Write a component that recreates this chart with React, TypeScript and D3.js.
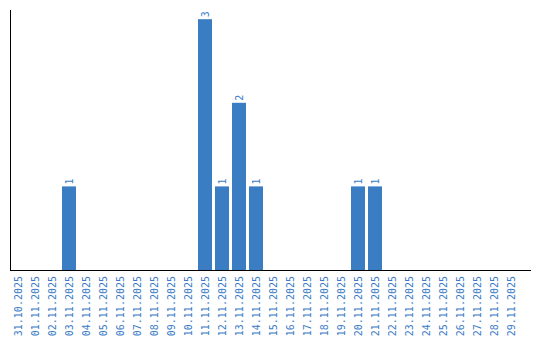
import React from "react";
import * as d3 from "d3";

const categories: string[] = [
  "31.10.2025", "01.11.2025", "02.11.2025", "03.11.2025", "04.11.2025", "05.11.2025",
  "06.11.2025", "07.11.2025", "08.11.2025", "09.11.2025", "10.11.2025", "11.11.2025",
  "12.11.2025", "13.11.2025", "14.11.2025", "15.11.2025", "16.11.2025", "17.11.2025",
  "18.11.2025", "19.11.2025", "20.11.2025", "21.11.2025", "22.11.2025", "23.11.2025",
  "24.11.2025", "25.11.2025", "26.11.2025", "27.11.2025", "28.11.2025", "29.11.2025",
];
const values: number[] = [
  0, 0, 0, 1, 0, 0, 0, 0, 0, 0, 0, 3, 1, 2, 1, 0, 0, 0, 0, 0, 1, 1, 0, 0, 0, 0, 0, 0, 0, 0,
];

const W = 540;
const H = 340;
const BAR = "#3b7dc2";
const TXT = "#3a7bc6";

export default function App() {
  const x = d3
    .scaleBand<string>()
    .domain(categories)
    .range([9.5, 519.5])
    .paddingInner(3 / 17)
    .paddingOuter(1.5 / 17);
  const y = d3.scaleLinear().domain([0, 3.11]).range([270, 10]);
  const font = "'DejaVu Sans Mono', monospace";

  return (
    <svg
      width={W}
      height={H}
      style={{ position: "absolute", left: 0, top: 0, background: "#fff" }}
    >
      {categories.map((c, i) => {
        const v = values[i];
        const bx = x(c)!;
        const cx = bx + x.bandwidth() / 2;
        return (
          <g key={c}>
            {v > 0 && (
              <>
                <rect x={bx} y={y(v)} width={x.bandwidth()} height={y(0) - y(v)} fill={BAR} />
                <text
                  transform={`translate(${cx},${y(v) - 2}) rotate(-90)`}
                  textAnchor="start"
                  dominantBaseline="central"
                  fontFamily={font}
                  fontSize={10}
                  fill={TXT}
                >
                  {v}
                </text>
              </>
            )}
            <text
              transform={`translate(${cx},${276}) rotate(-90)`}
              textAnchor="end"
              dominantBaseline="central"
              fontFamily={font}
              fontSize={10}
              fill={TXT}
            >
              {c}
            </text>
          </g>
        );
      })}
      <line x1={10.5} x2={10.5} y1={10} y2={270} stroke="#000" strokeWidth={1} />
      <line x1={10} x2={531} y1={270.5} y2={270.5} stroke="#000" strokeWidth={1} />
    </svg>
  );
}
